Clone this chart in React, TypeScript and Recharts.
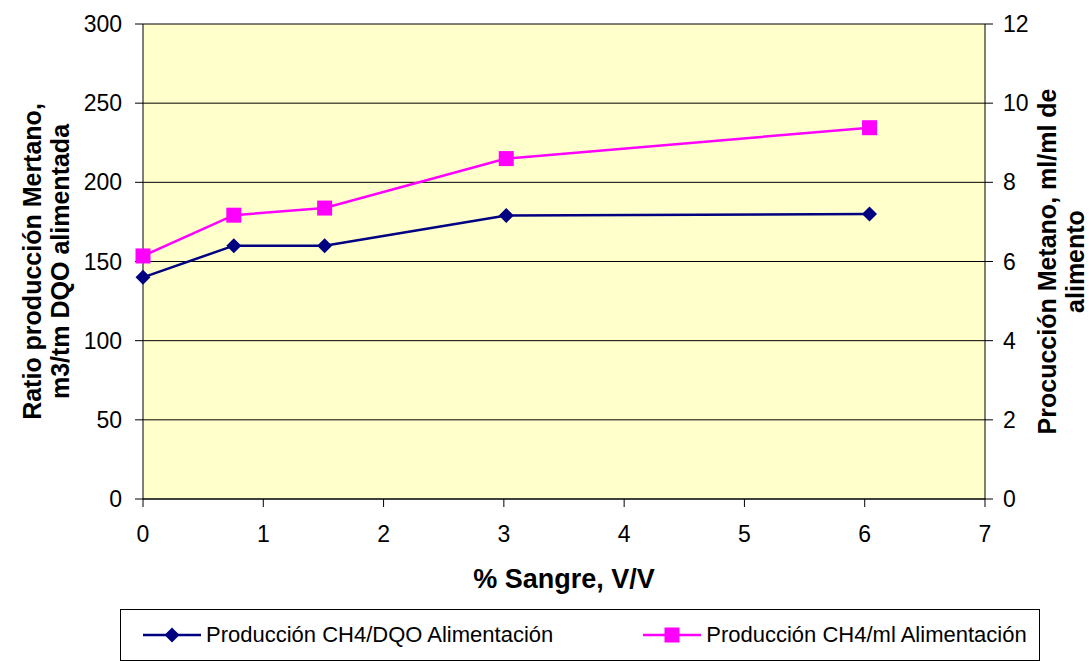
import {
  ComposedChart,
  Line,
  XAxis,
  YAxis,
  CartesianGrid,
  Legend,
} from "recharts";

// % sangre (V/V) added to the feed
const sangre = [0, 0.755, 1.51, 3.02, 6.04];
// m3 CH4 / tm DQO fed
const ratioDqo = [140, 160, 160, 179, 180];
// ml CH4 / ml feed
const prodMl = [6.14, 7.17, 7.35, 8.6, 9.38];

const xTicks = [0, 1, 2, 3, 4, 5, 6, 7];
const leftTicks = [0, 50, 100, 150, 200, 250, 300];
const rightTicks = [0, 2, 4, 6, 8, 10, 12];

const data = sangre.map((s, i) => ({
  sangre: s,
  dqo: ratioDqo[i],
  ml: prodMl[i],
}));

const FONT = "'Liberation Sans', Arial, sans-serif";
const NAVY = "#000080";
const MAGENTA = "#FF00FF";

const Diamond = (props: any) => {
  const { cx, cy } = props;
  if (cx == null || cy == null) return null;
  const r = 7.5;
  return (
    <path
      d={`M${cx},${cy - r}L${cx + r},${cy}L${cx},${cy + r}L${cx - r},${cy}Z`}
      fill={NAVY}
    />
  );
};

const Square = (props: any) => {
  const { cx, cy } = props;
  if (cx == null || cy == null) return null;
  const s = 15;
  return <rect x={cx - s / 2} y={cy - s / 2} width={s} height={s} fill={MAGENTA} />;
};

const LeftTitle = (props: any) => {
  const vb = props.viewBox || { x: 0, y: 24, width: 143, height: 475 };
  const cy = vb.y + vb.height / 2;
  return (
    <g fontFamily={FONT} fontWeight="bold" fontSize={25} fill="#000">
      <text x={41} y={cy} textAnchor="middle" transform={`rotate(-90 41 ${cy})`}>
        Ratio producción Mertano,
      </text>
      <text x={69} y={cy} textAnchor="middle" transform={`rotate(-90 69 ${cy})`}>
        m3/tm DQO alimentada
      </text>
    </g>
  );
};

const RightTitle = (props: any) => {
  const vb = props.viewBox || { x: 985, y: 24, width: 106, height: 475 };
  const cy = vb.y + vb.height / 2;
  return (
    <g fontFamily={FONT} fontWeight="bold" fontSize={25} fill="#000">
      <text x={1056} y={cy} textAnchor="middle" transform={`rotate(-90 1056 ${cy})`}>
        Procucción Metano, ml/ml de
      </text>
      <text x={1084} y={cy} textAnchor="middle" transform={`rotate(-90 1084 ${cy})`}>
        alimento
      </text>
    </g>
  );
};

const LegendBox = (props: any) => {
  const items = props.payload || [];
  return (
    <div
      style={{
        boxSizing: "border-box",
        width: 920,
        height: 52,
        border: "1px solid #000",
        display: "flex",
        alignItems: "center",
        fontFamily: FONT,
        fontSize: 22,
        color: "#000",
      }}
    >
      {items.map((it: any, i: number) => (
        <div
          key={i}
          style={{
            display: "flex",
            alignItems: "center",
            marginLeft: i === 0 ? 22 : 90,
          }}
        >
          <svg width={58} height={20} style={{ marginRight: 5 }}>
            <line x1={0} y1={10} x2={58} y2={10} stroke={it.color} strokeWidth={2.5} />
            {i === 0 ? (
              <path d="M29,2.5L36.5,10L29,17.5L21.5,10Z" fill={it.color} />
            ) : (
              <rect x={21.5} y={2.5} width={15} height={15} fill={it.color} />
            )}
          </svg>
          <span>{it.value}</span>
        </div>
      ))}
    </div>
  );
};

export default function App() {
  return (
    <div style={{ position: "absolute", left: 0, top: 0 }}>
      <ComposedChart
        width={1091}
        height={661}
        data={data}
        margin={{ top: 24, right: 0, bottom: 0, left: 0 }}
      >
        <CartesianGrid
          vertical={false}
          stroke="#000"
          strokeWidth={1}
          fill="#FFFFCC"
          fillOpacity={1}
          yAxisId="left"
        />
        <XAxis
          dataKey="sangre"
          type="number"
          domain={[0, 7]}
          ticks={xTicks}
          interval={0}
          height={110}
          tickSize={8}
          tickMargin={19}
          stroke="#000"
          tick={{ fill: "#000", fontSize: 23, fontFamily: FONT }}
          label={{
            value: "% Sangre, V/V",
            position: "insideBottom",
            offset: 21,
            fill: "#000",
            fontSize: 27,
            fontWeight: "bold",
            fontFamily: FONT,
          }}
        />
        <YAxis
          yAxisId="left"
          orientation="left"
          domain={[0, 300]}
          ticks={leftTicks}
          interval={0}
          width={143}
          tickSize={8}
          tickMargin={13}
          stroke="#000"
          tick={{ fill: "#000", fontSize: 23, fontFamily: FONT }}
          label={(p: any) => <LeftTitle {...p} />}
        />
        <YAxis
          yAxisId="right"
          orientation="right"
          domain={[0, 12]}
          ticks={rightTicks}
          interval={0}
          width={106}
          tickSize={8}
          tickMargin={10}
          stroke="#000"
          tick={{ fill: "#000", fontSize: 23, fontFamily: FONT }}
          label={(p: any) => <RightTitle {...p} />}
        />
        <Legend
          verticalAlign="bottom"
          height={52}
          content={(p: any) => <LegendBox {...p} />}
          wrapperStyle={{ left: 120, width: 920, bottom: 0, height: 52 }}
        />
        <Line
          yAxisId="left"
          dataKey="dqo"
          name="Producción CH4/DQO Alimentación"
          stroke={NAVY}
          strokeWidth={2.5}
          dot={<Diamond />}
          activeDot={false}
          isAnimationActive={false}
        />
        <Line
          yAxisId="right"
          dataKey="ml"
          name="Producción CH4/ml Alimentación"
          stroke={MAGENTA}
          strokeWidth={2.5}
          dot={<Square />}
          activeDot={false}
          isAnimationActive={false}
        />
      </ComposedChart>
    </div>
  );
}
